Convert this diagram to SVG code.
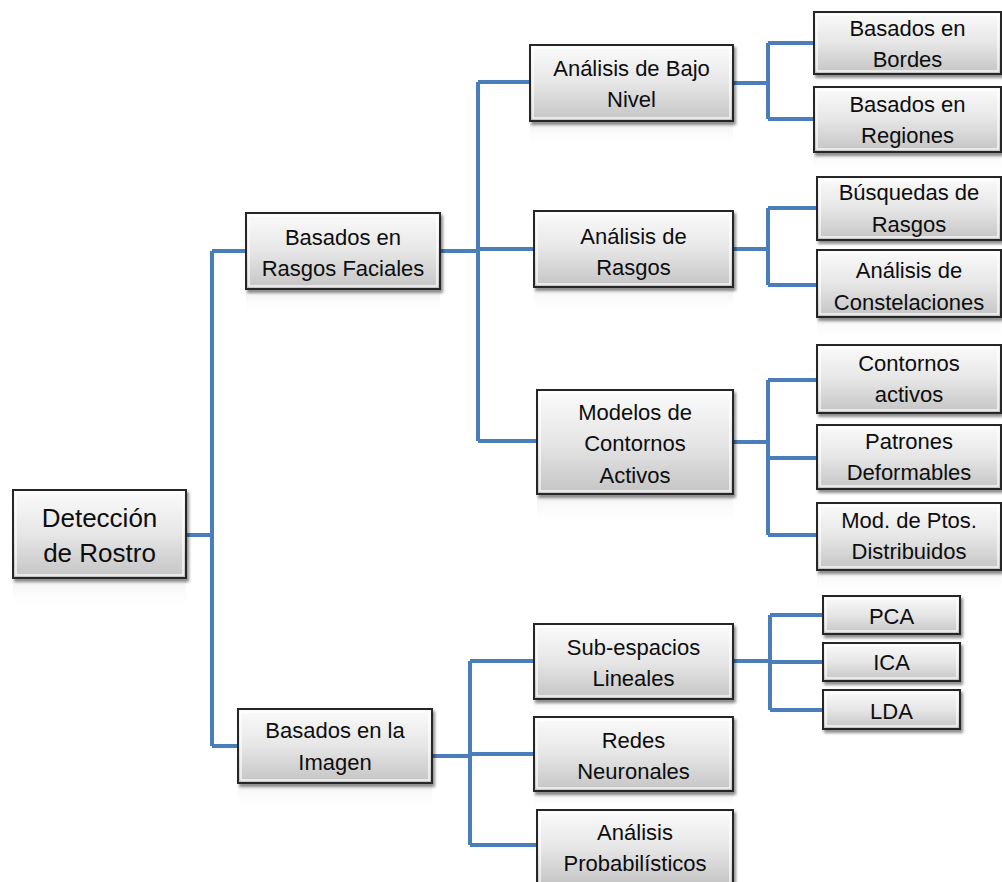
<svg xmlns="http://www.w3.org/2000/svg" width="1002" height="882" viewBox="0 0 1002 882">
<defs>
<linearGradient id="g" x1="0" y1="0" x2="0" y2="1">
<stop offset="0" stop-color="#fbfbfb"/>
<stop offset="0.5" stop-color="#e6e6e6"/>
<stop offset="1" stop-color="#c4c4c4"/>
</linearGradient>
<linearGradient id="refl" x1="0" y1="0" x2="0" y2="1">
<stop offset="0" stop-color="#e8e8e8" stop-opacity="0.6"/>
<stop offset="1" stop-color="#ffffff" stop-opacity="0"/>
</linearGradient>
<filter id="sh" x="-10%" y="-10%" width="125%" height="140%">
<feGaussianBlur in="SourceAlpha" stdDeviation="1.5"/>
<feOffset dx="2" dy="3" result="o"/>
<feComponentTransfer><feFuncA type="linear" slope="0.45"/></feComponentTransfer>
<feMerge><feMergeNode/><feMergeNode in="SourceGraphic"/></feMerge>
</filter>
</defs>
<style>
.box{fill:url(#g);stroke:#262626;stroke-width:2;filter:url(#sh)}
.hl{fill:none;stroke:#ffffff;stroke-opacity:0.8;stroke-width:1.5}
.rf{fill:url(#refl)}
text{font-family:"Liberation Sans",Arial,sans-serif;font-size:22px;fill:#0d0d0d;text-anchor:middle}
.big{font-size:26px}
.c{fill:none;stroke:#4a7ebb;stroke-width:4;stroke-linejoin:miter}
</style>
<g id="connectors">
<path class="c" d="M186,535 H212 M212,251 V746 M212,251 H246 M212,746 H238"/>
<path class="c" d="M440,251 H478 M478,82 V441 M478,82 H530 M478,249 H534 M478,441 H537"/>
<path class="c" d="M733,83 H768 M768,43 V119 M768,43 H814 M768,119 H814"/>
<path class="c" d="M733,249 H768 M768,208 V285 M768,208 H817 M768,285 H817"/>
<path class="c" d="M733,442 H768 M768,380 V535 M768,380 H817 M768,458 H817 M768,535 H817"/>
<path class="c" d="M432,756 H470 M470,661 V845 M470,661 H534 M470,754 H534 M470,845 H537"/>
<path class="c" d="M733,661 H770 M770,615 V710 M770,615 H823 M770,662 H823 M770,710 H823"/>
</g>
<g id="root">
<rect class="rf" x="13" y="580" width="173" height="30"/>
<rect class="box" x="13" y="490" width="173" height="88"/>
<rect class="hl" x="16" y="493" width="167" height="82"/>
<text class="big" x="99.5" y="527">Detección</text>
<text class="big" x="99.5" y="562">de Rostro</text>
</g>
<g id="rasgos-faciales">
<rect class="rf" x="246" y="291" width="194" height="24"/>
<rect class="box" x="246" y="213" width="194" height="76"/>
<rect class="hl" x="249" y="216" width="188" height="70"/>
<text x="343" y="245">Basados en</text>
<text x="343" y="276">Rasgos Faciales</text>
</g>
<g id="imagen">
<rect class="rf" x="238" y="785" width="194" height="24"/>
<rect class="box" x="238" y="709" width="194" height="74"/>
<rect class="hl" x="241" y="712" width="188" height="68"/>
<text x="335" y="738">Basados en la</text>
<text x="335" y="770">Imagen</text>
</g>
<g id="bajo-nivel">
<rect class="rf" x="530" y="123" width="203" height="24"/>
<rect class="box" x="530" y="45" width="203" height="76"/>
<rect class="hl" x="533" y="48" width="197" height="70"/>
<text x="631.5" y="76">Análisis de Bajo</text>
<text x="631.5" y="107">Nivel</text>
</g>
<g id="analisis-rasgos">
<rect class="rf" x="534" y="289" width="199" height="24"/>
<rect class="box" x="534" y="211" width="199" height="76"/>
<rect class="hl" x="537" y="214" width="193" height="70"/>
<text x="633.5" y="244">Análisis de</text>
<text x="633.5" y="275">Rasgos</text>
</g>
<g id="modelos">
<rect class="rf" x="537" y="496" width="196" height="30"/>
<rect class="box" x="537" y="390" width="196" height="104"/>
<rect class="hl" x="540" y="393" width="190" height="98"/>
<text x="635" y="420">Modelos de</text>
<text x="635" y="451">Contornos</text>
<text x="635" y="483">Activos</text>
</g>
<g id="bordes">
<rect class="box" x="814" y="12" width="187" height="62"/>
<rect class="hl" x="817" y="15" width="181" height="56"/>
<text x="907.5" y="36">Basados en</text>
<text x="907.5" y="67">Bordes</text>
</g>
<g id="regiones">
<rect class="rf" x="814" y="154" width="187" height="18"/>
<rect class="box" x="814" y="87" width="187" height="65"/>
<rect class="hl" x="817" y="90" width="181" height="59"/>
<text x="907.5" y="112">Basados en</text>
<text x="907.5" y="143">Regiones</text>
</g>
<g id="busquedas">
<rect class="box" x="817" y="177" width="184" height="63"/>
<rect class="hl" x="820" y="180" width="178" height="57"/>
<text x="909" y="200">Búsquedas de</text>
<text x="909" y="232">Rasgos</text>
</g>
<g id="constelaciones">
<rect class="rf" x="817" y="319" width="184" height="20"/>
<rect class="box" x="817" y="250" width="184" height="67"/>
<rect class="hl" x="820" y="253" width="178" height="61"/>
<text x="909" y="278">Análisis de</text>
<text x="909" y="310">Constelaciones</text>
</g>
<g id="contornos-activos">
<rect class="box" x="817" y="345" width="184" height="68"/>
<rect class="hl" x="820" y="348" width="178" height="62"/>
<text x="909" y="371">Contornos</text>
<text x="909" y="402">activos</text>
</g>
<g id="patrones">
<rect class="box" x="817" y="425" width="184" height="64"/>
<rect class="hl" x="820" y="428" width="178" height="58"/>
<text x="909" y="449">Patrones</text>
<text x="909" y="480">Deformables</text>
</g>
<g id="ptos">
<rect class="rf" x="817" y="572" width="184" height="20"/>
<rect class="box" x="817" y="503" width="184" height="67"/>
<rect class="hl" x="820" y="506" width="178" height="61"/>
<text x="909" y="528">Mod. de Ptos.</text>
<text x="909" y="559">Distribuidos</text>
</g>
<g id="subespacios">
<rect class="rf" x="534" y="701" width="199" height="14"/>
<rect class="box" x="534" y="624" width="199" height="75"/>
<rect class="hl" x="537" y="627" width="193" height="69"/>
<text x="633.5" y="655">Sub-espacios</text>
<text x="633.5" y="686">Lineales</text>
</g>
<g id="redes">
<rect class="rf" x="534" y="793" width="199" height="15"/>
<rect class="box" x="534" y="717" width="199" height="74"/>
<rect class="hl" x="537" y="720" width="193" height="68"/>
<text x="633.5" y="748">Redes</text>
<text x="633.5" y="779">Neuronales</text>
</g>
<g id="probabilisticos">
<rect class="box" x="537" y="810" width="196" height="76"/>
<rect class="hl" x="540" y="813" width="190" height="70"/>
<text x="635" y="840">Análisis</text>
<text x="635" y="871">Probabilísticos</text>
</g>
<g id="pca">
<rect class="box" x="823" y="596" width="137" height="38"/>
<rect class="hl" x="826" y="599" width="131" height="32"/>
<text x="891.5" y="624">PCA</text>
</g>
<g id="ica">
<rect class="box" x="823" y="643" width="137" height="38"/>
<rect class="hl" x="826" y="646" width="131" height="32"/>
<text x="891.5" y="670">ICA</text>
</g>
<g id="lda">
<rect class="box" x="823" y="690" width="137" height="39"/>
<rect class="hl" x="826" y="693" width="131" height="33"/>
<text x="891.5" y="719">LDA</text>
</g>
</svg>
